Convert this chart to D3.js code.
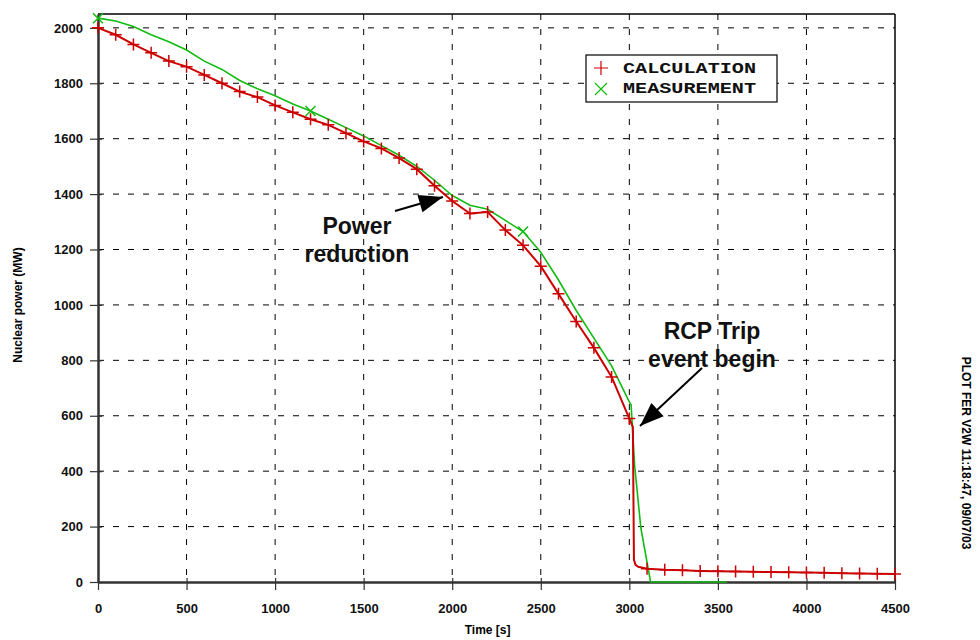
<!doctype html>
<html>
<head>
<meta charset="utf-8">
<title>Nuclear power</title>
<script src="https://cdn.jsdelivr.net/npm/d3@7"></script>
<style>
  body { margin: 0; background: #fff; }
</style>
</head>
<body>
<svg id="chart" width="980" height="640" font-family="Liberation Sans, Arial, sans-serif"></svg>
<script>
// calculation (red, + markers every 100 s)
var calcTime = [0,100,200,300,400,500,600,700,800,900,1000,1100,1200,1300,1400,1500,1600,1700,1800,1900,
  2000,2100,2200,2300,2400,2500,2600,2700,2800,2900,3000,3020,3026,3035,3050,3100,3200,3300,3400,3500,3600,
  3700,3800,3900,4000,4100,4200,4300,4400,4500];
var calcPower = [2000,1975,1940,1910,1880,1860,1830,1800,1770,1750,1720,1695,1670,1650,1620,1590,1565,1530,1490,1430,
  1375,1330,1335,1270,1215,1140,1040,940,845,740,590,560,80,62,55,48,44,42,40,39,38,
  37,36,35,34,33,32,31,30,29];
var calcMarks = [0,100,200,300,400,500,600,700,800,900,1000,1100,1200,1300,1400,1500,1600,1700,1800,1900,
  2000,2100,2200,2300,2400,2500,2600,2700,2800,2900,3000,3100,3200,3300,3400,3500,3600,3700,3800,3900,
  4000,4100,4200,4300,4400,4500];

// measurement (green, x markers every 1200 s)
var measTime = [0,100,200,300,400,500,600,700,800,900,1000,1100,1200,1300,1400,1500,1600,1700,1800,1900,
  2000,2100,2200,2300,2400,2500,2600,2700,2800,2900,3000,3010,3030,3065,3120,3550];
var measPower = [2035,2025,2005,1975,1950,1920,1880,1850,1810,1780,1755,1725,1700,1670,1640,1610,1575,1540,1500,1450,
  1395,1360,1345,1305,1265,1190,1090,980,880,780,650,640,420,195,0,0];
var measMarks = [0,1200,2400];

var xTicks = [0,500,1000,1500,2000,2500,3000,3500,4000,4500];
var yTicks = [0,200,400,600,800,1000,1200,1400,1600,1800,2000];

var svg = d3.select("#chart");
var pLeft = 98, pRight = 895, pTop = 14, pBottom = 582;

var x = d3.scaleLinear().domain([0, 4500]).range([pLeft, pRight]);
var y = d3.scaleLinear().domain([0, 2050]).range([pBottom, pTop]);

// grid
svg.append("g").selectAll("line").data(xTicks.slice(1, -1)).join("line")
  .attr("x1", d => x(d)).attr("x2", d => x(d))
  .attr("y1", pTop).attr("y2", pBottom)
  .attr("stroke", "#000").attr("stroke-width", 1).attr("stroke-dasharray", "6,9");
svg.append("g").selectAll("line").data(yTicks.slice(1)).join("line")
  .attr("x1", pLeft).attr("x2", pRight)
  .attr("y1", d => y(d)).attr("y2", d => y(d))
  .attr("stroke", "#000").attr("stroke-width", 1).attr("stroke-dasharray", "6,9");

// frame
svg.append("line").attr("x1", pLeft).attr("x2", pRight).attr("y1", pTop).attr("y2", pTop)
  .attr("stroke", "#000").attr("stroke-width", 1.5);
svg.append("line").attr("x1", pRight).attr("x2", pRight).attr("y1", pTop).attr("y2", pBottom)
  .attr("stroke", "#000").attr("stroke-width", 1.5);

// axes
var fmt = d3.format("d");
var xAxis = svg.append("g").attr("transform", "translate(0," + pBottom + ")")
  .call(d3.axisBottom(x).tickValues(xTicks).tickFormat(fmt).tickSizeInner(8).tickSizeOuter(0).tickPadding(14));
xAxis.selectAll(".tick line").attr("y1", -4).attr("stroke", "#333").attr("stroke-width", 1.2);
var yAxis = svg.append("g").attr("transform", "translate(" + pLeft + ",0)")
  .call(d3.axisLeft(y).tickValues(yTicks).tickFormat(fmt).tickSizeInner(8).tickSizeOuter(0).tickPadding(7));
yAxis.selectAll(".tick line").attr("x1", 4).attr("stroke", "#333").attr("stroke-width", 1.2);
[xAxis, yAxis].forEach(function(a) {
  a.attr("font-family", "Liberation Sans, Arial, sans-serif").attr("font-size", 13);
  a.select(".domain").attr("stroke", "#333").attr("stroke-width", 2.5);
  a.selectAll(".tick text").attr("font-weight", "bold").attr("fill", "#111");
});

// titles
svg.append("text").attr("x", x(2200)).attr("y", 634).attr("text-anchor", "middle")
  .attr("font-size", 12).attr("font-weight", "bold").text("Time [s]");
svg.append("text").attr("transform", "translate(22,305) rotate(-90)").attr("text-anchor", "middle")
  .attr("font-size", 12).attr("font-weight", "bold").text("Nuclear power (MW)");
svg.append("text").attr("transform", "translate(962,453) rotate(90)").attr("text-anchor", "middle")
  .attr("font-size", 12).attr("font-weight", "bold").text("PLOT FER V2W 11:18:47, 09/07/03");

// curves
var line = d3.line().x(d => x(d[0])).y(d => y(d[1]));
var calcData = d3.zip(calcTime, calcPower);
var measData = d3.zip(measTime, measPower);
var red = "#cc0000", green = "#11bb11";

svg.append("path").datum(measData).attr("d", line).attr("fill", "none")
  .attr("stroke", green).attr("stroke-width", 1.6);
svg.append("path").datum(calcData).attr("d", line).attr("fill", "none")
  .attr("stroke", red).attr("stroke-width", 2);

var calcAt = d3.scaleLinear().domain(calcTime).range(calcPower);
var measAt = d3.scaleLinear().domain(measTime).range(measPower);

svg.append("g").selectAll("path").data(calcMarks).join("path")
  .attr("d", "M-6,0H6M0,-6V6")
  .attr("transform", d => "translate(" + x(d) + "," + y(calcAt(d)) + ")")
  .attr("stroke", red).attr("stroke-width", 1.5).attr("fill", "none");
svg.append("g").selectAll("path").data(measMarks).join("path")
  .attr("d", "M-5,-5L5,5M-5,5L5,-5")
  .attr("transform", d => "translate(" + x(d) + "," + y(measAt(d)) + ")")
  .attr("stroke", green).attr("stroke-width", 1.5).attr("fill", "none");

// legend
var lg = svg.append("g").attr("transform", "translate(586,55)");
lg.append("rect").attr("width", 191).attr("height", 47).attr("fill", "#fff")
  .attr("stroke", "#000").attr("stroke-width", 1.2);
lg.append("path").attr("d", "M8,13H22M15,6V20").attr("stroke", red).attr("stroke-width", 1.2);
lg.append("path").attr("d", "M9,28L21,40M9,40L21,28").attr("stroke", green).attr("stroke-width", 1.2);
lg.selectAll("text.lg").data(["CALCULATION", "MEASUREMENT"]).join("text")
  .attr("x", 37).attr("y", (d, i) => 18 + i * 20)
  .attr("font-family", "Liberation Mono, Courier New, monospace")
  .attr("font-size", 14).attr("font-weight", "bold").attr("fill", "#111")
  .attr("textLength", 133).attr("lengthAdjust", "spacingAndGlyphs").text(d => d);

// annotations
function note(lines, cx, cy, x1, y1, x2, y2) {
  var t = svg.append("text").attr("text-anchor", "middle").attr("font-size", 23).attr("font-weight", "bold")
    .attr("fill", "#111");
  lines.forEach(function(s, i) {
    t.append("tspan").attr("x", cx).attr("y", cy + i * 28).text(s);
  });
  svg.append("line").attr("x1", x1).attr("y1", y1).attr("x2", x2).attr("y2", y2)
    .attr("stroke", "#000").attr("stroke-width", 2);
  var ang = Math.atan2(y2 - y1, x2 - x1);
  var L = 24, W = 9;
  var bx = x2 - L * Math.cos(ang), by = y2 - L * Math.sin(ang);
  svg.append("path").attr("d", "M" + x2 + "," + y2 +
      "L" + (bx - W * Math.sin(ang)) + "," + (by + W * Math.cos(ang)) +
      "L" + (bx + W * Math.sin(ang)) + "," + (by - W * Math.cos(ang)) + "Z")
    .attr("fill", "#000");
}
note(["Power", "reduction"], 357, 234, 395, 211, 443, 197);
note(["RCP Trip", "event begin"], 712, 339, 702, 368, 640, 426);
</script>
</body>
</html>
